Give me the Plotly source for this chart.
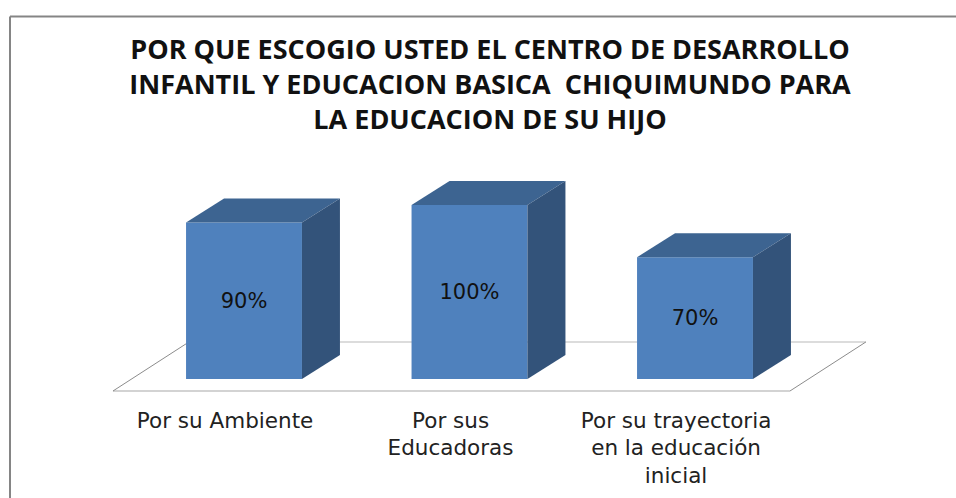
import plotly.graph_objects as go

TITLE = ("POR QUE ESCOGIO USTED EL CENTRO DE DESARROLLO<br>"
         "INFANTIL Y EDUCACION BASICA \u00a0CHIQUIMUNDO PARA<br>"
         "LA EDUCACION DE SU HIJO")
CATEGORIES = ["Por su Ambiente", "Por sus<br>Educadoras",
              "Por su trayectoria<br>en la educación<br>inicial"]
VALUES = [90, 100, 70]
POSITIONS = [0, 1, 2]

W, H = 956, 498
FRONT = "#4F81BD"
TOP = "#3D6491"
SIDE = "#33537A"

# axis scale: one category = 225.5 px, one percent = 1.74 px
BAR_W = 0.514
DX = 0.1685   # depth of the fake 3d box, in axis units
DY = 13.8
LABEL_SHIFT = 0.084   # labels sit under the floor centre, left of the bars
X_RANGE = [-244 / 225.5, (W - 244) / 225.5]
Y_RANGE = [(379 - H) / 1.74, 379 / 1.74]

fig = go.Figure()

fig.add_trace(go.Bar(
    x=POSITIONS, y=VALUES, width=BAR_W,
    marker=dict(color=FRONT, line=dict(width=0)),
    text=[f"{v}%" for v in VALUES],
    textposition="inside", insidetextanchor="middle", textangle=0,
    textfont=dict(family="DejaVu Sans", size=21, color="#111111"),
    constraintext="none",
))

# top and side faces come from the same values as the front
for p, v in zip(POSITIONS, VALUES):
    l, r = p - BAR_W / 2, p + BAR_W / 2
    fig.add_trace(go.Scatter(
        x=[l, l + DX, r + DX, r, l], y=[v, v + DY, v + DY, v, v],
        mode="lines", fill="toself", fillcolor=TOP, line=dict(width=0),
    ))
    fig.add_trace(go.Scatter(
        x=[r, r + DX, r + DX, r, r], y=[0, DY, v + DY, v, 0],
        mode="lines", fill="toself", fillcolor=SIDE, line=dict(width=0),
    ))

# floor of the 3d plot, behind the bars
FLOOR_L, FLOOR_R = -0.581, 2.421
FLOOR_FRONT, FLOOR_BACK = -6.9, 21.3
floor = [
    (FLOOR_L, FLOOR_FRONT, FLOOR_R, FLOOR_FRONT, "#C4C4C4", 1.5),
    (FLOOR_L + 0.337, FLOOR_BACK, FLOOR_R + 0.337, FLOOR_BACK, "#DCDCDC", 2),
    (FLOOR_L, FLOOR_FRONT, FLOOR_L + 0.337, FLOOR_BACK, "#8C8C8C", 1),
    (FLOOR_R, FLOOR_FRONT, FLOOR_R + 0.337, FLOOR_BACK, "#8C8C8C", 1),
]
for x0, y0, x1, y1, c, w in floor:
    fig.add_shape(type="line", xref="x", yref="y", x0=x0, y0=y0, x1=x1, y1=y1,
                  line=dict(color=c, width=w), layer="below")

# picture frame, only top and left are visible
FRAME_X = 10 / W
FRAME_Y = 1 - 16.5 / H
fig.add_shape(type="line", xref="paper", yref="paper", x0=FRAME_X, x1=1,
              y0=FRAME_Y, y1=FRAME_Y, line=dict(color="#858585", width=2))
fig.add_shape(type="line", xref="paper", yref="paper", x0=FRAME_X, x1=FRAME_X,
              y0=0, y1=FRAME_Y, line=dict(color="#858585", width=2))

fig.update_layout(
    width=W, height=H,
    margin=dict(l=0, r=0, t=0, b=0),
    paper_bgcolor="white", plot_bgcolor="white",
    showlegend=False,
    title=dict(text=TITLE, x=490 / W, xanchor="center",
               y=1 - 59 / H, yanchor="top",
               font=dict(family="Open Sans", size=27, color="#111111", weight="bold")),
    xaxis=dict(range=X_RANGE, tickvals=[p - LABEL_SHIFT for p in POSITIONS],
               ticktext=CATEGORIES, anchor="free", position=(H - 379) / H,
               showgrid=False, zeroline=False, showline=False, ticks="",
               ticklabelstandoff=26,
               tickfont=dict(family="DejaVu Sans", size=21.5, color="#222222")),
    yaxis=dict(range=Y_RANGE, visible=False, showgrid=False, zeroline=False),
)

# drop the default body margin so the figure fills the window
fig.write_html("out.html", config={"displayModeBar": False},
               post_script="document.body.style.margin='0';")
